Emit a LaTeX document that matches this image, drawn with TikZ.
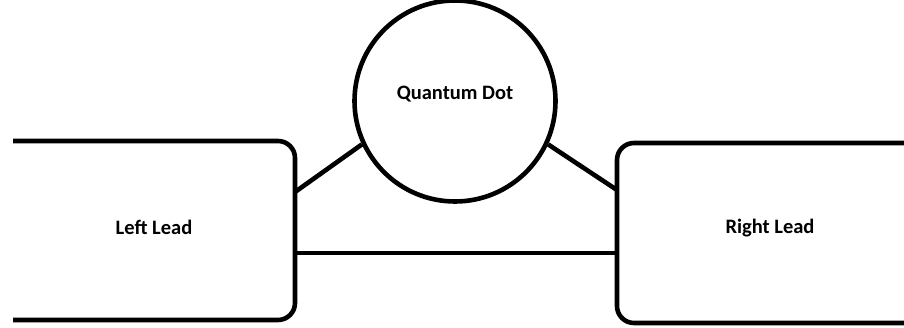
\documentclass[tikz,border=0pt]{standalone}
\usepackage{fontspec}
\setmainfont{Carlito}
\begin{document}
\begin{tikzpicture}[x=1pt,y=-1pt,
  wire/.style={line width=4.6pt,black},
  lbl/.style={font=\fontsize{20.5}{24}\selectfont\bfseries,inner sep=0pt},
  dotshape/.style={circle,draw,line width=4.6pt,minimum size=201pt,inner sep=0pt}]
\useasboundingbox (0,0) rectangle (904,328);
% quantum dot
\node[dotshape] (QD) at (455,101) {};
\node[lbl] (QDt) at (455,94) {Quantum Dot};
% leads
\node[lbl] (LL) at (154,227) {Left Lead};
\node[lbl] (RL) at (770,228) {Right Lead};
\coordinate (LLa) at (13,141);
\coordinate (LLb) at (295,141);
\coordinate (LLc) at (295,320);
\coordinate (LLd) at (13,320);
\coordinate (RLa) at (904,143);
\coordinate (RLb) at (617,143);
\coordinate (RLc) at (617,323);
\coordinate (RLd) at (904,323);
\draw[wire,rounded corners=17pt] (LLa) -- (LLb) -- (LLc) -- (LLd);
\draw[wire,rounded corners=17pt] (RLa) -- (RLb) -- (RLc) -- (RLd);
% connection points on the lead edges
\coordinate (LLup) at (295,192);
\coordinate (LLlo) at (295,253);
\coordinate (RLup) at (617,190);
\coordinate (RLlo) at (617,253);
\draw[wire] (LLup) -- (QD.205);
\draw[wire] (QD.-25) -- (RLup);
\draw[wire] (LLlo) -- (RLlo);
\end{tikzpicture}
\end{document}
